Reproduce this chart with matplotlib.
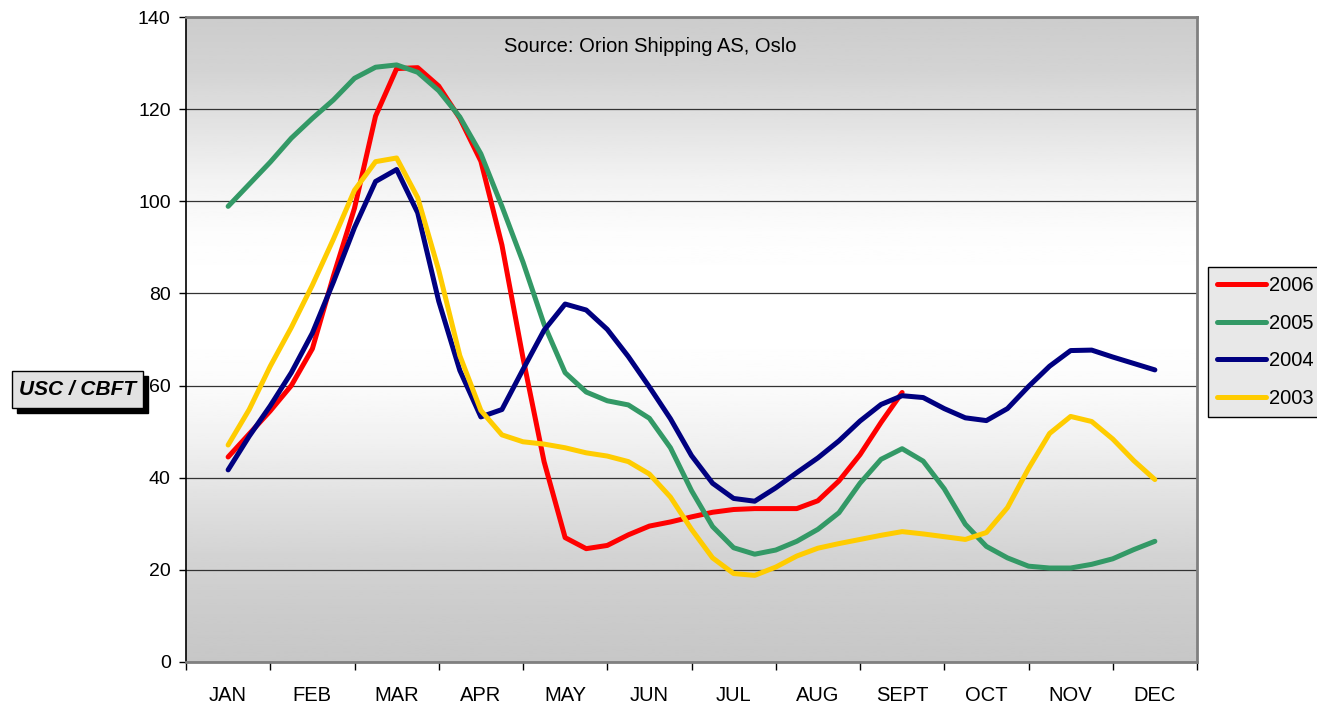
import matplotlib.pyplot as plt
import numpy as np
from matplotlib.patches import Rectangle

# months on the category axis, weekly-ish readings (quarter month steps)
months = ["JAN", "FEB", "MAR", "APR", "MAY", "JUN", "JUL", "AUG", "SEPT", "OCT", "NOV", "DEC"]
weeks = [i * 0.25 for i in range(45)]   # 0 = JAN ... 11 = DEC

rate_2006 = [44.5, 49.5, 54.5, 60.0, 68.0, 83.8, 98.5, 118.5, 128.8, 129.0, 125.0, 118.0,
             108.7, 90.5, 66.0, 43.5, 27.0, 24.6, 25.3, 27.6, 29.5, 30.4, 31.5, 32.5,
             33.1, 33.3, 33.3, 33.3, 35.0, 39.3, 45.0, 52.0, 58.5]
rate_2005 = [98.9, 103.7, 108.5, 113.7, 118.0, 122.0, 126.7, 129.1, 129.6, 128.0, 124.0, 118.3,
             110.3, 98.9, 86.8, 73.3, 62.8, 58.6, 56.7, 55.8, 52.9, 46.5, 37.2, 29.4,
             24.8, 23.4, 24.3, 26.2, 28.8, 32.4, 38.8, 44.0, 46.3, 43.6, 37.6, 29.9,
             25.1, 22.6, 20.8, 20.4, 20.4, 21.2, 22.4, 24.4, 26.2]
rate_2004 = [41.7, 49.0, 55.6, 62.8, 71.4, 82.5, 94.3, 104.3, 106.9, 97.5, 78.3, 63.3,
             53.2, 54.8, 63.5, 72.0, 77.7, 76.4, 72.2, 66.3, 59.7, 52.8, 44.8, 38.8,
             35.5, 34.9, 37.8, 41.1, 44.3, 48.0, 52.3, 55.9, 57.8, 57.4, 55.0, 53.0,
             52.4, 55.0, 59.8, 64.2, 67.6, 67.7, 66.2, 64.8, 63.4]
rate_2003 = [47.1, 54.8, 64.2, 72.6, 81.8, 91.8, 102.4, 108.6, 109.4, 100.8, 85.0, 66.5,
             54.6, 49.3, 47.8, 47.3, 46.5, 45.4, 44.7, 43.5, 40.8, 35.8, 28.8, 22.6,
             19.2, 18.8, 20.6, 23.0, 24.7, 25.7, 26.6, 27.5, 28.3, 27.8, 27.2, 26.6,
             28.1, 33.5, 42.0, 49.6, 53.3, 52.2, 48.4, 43.7, 39.6]

series = [("2006", rate_2006, "#ff0000"),
          ("2005", rate_2005, "#339966"),
          ("2004", rate_2004, "#000080"),
          ("2003", rate_2003, "#ffcc00")]

plt.rcParams['font.family'] = ['Liberation Sans', 'DejaVu Sans']

fig = plt.figure(figsize=(13.17, 7.06), dpi=100)
ax = fig.add_axes([186 / 1317, 1 - 662 / 706, 1011 / 1317, 645 / 706])

# plot area shading: grey at top and bottom, white in the middle
shade = np.array([0.80, 0.83, 0.89, 0.95, 0.99, 1.0, 1.0, 0.98, 0.94, 0.88, 0.83, 0.80, 0.78])
shade_img = np.interp(np.linspace(0, 1, 300), np.linspace(0, 1, len(shade)), shade)
ax.imshow(shade_img[:, None], cmap="gray", vmin=0, vmax=1, aspect="auto",
          extent=[-0.5, 11.5, 0, 140], origin="upper", zorder=0)

for label, vals, col in series:
    ax.plot(weeks[:len(vals)], vals, color=col, lw=3.6, label=label,
            solid_capstyle="round", solid_joinstyle="round", zorder=3)

ax.set_xlim(-0.5, 11.5)
ax.set_ylim(0, 140)
ax.set_yticks(range(0, 141, 20))
ax.yaxis.grid(True, color="#333333", lw=0.9)
ax.set_axisbelow(True)
ax.tick_params(axis="y", direction="out", length=5, width=1, pad=6, labelsize=14)

ax.set_xticks(np.arange(-0.5, 11.6, 1))
ax.set_xticklabels([])
ax.set_xticks(range(12), minor=True)
ax.set_xticklabels(months, minor=True)
ax.tick_params(axis="x", which="major", direction="out", length=6, width=1)
ax.tick_params(axis="x", which="minor", length=0, pad=17, labelsize=14.5)

for side in ["top", "right", "bottom"]:
    ax.spines[side].set_color("#808080")
    ax.spines[side].set_linewidth(2)
ax.spines["left"].set_color("black")
ax.spines["left"].set_linewidth(1.2)

ax.text((650 - 186) / 1011, 0.955, "Source: Orion Shipping AS, Oslo", transform=ax.transAxes,
        ha="center", va="center", fontsize=14.5)

# y-axis title box with shadow
bx, by, bw, bh = 12 / 1317, 1 - 408 / 706, 131 / 1317, 37 / 706
fig.patches.append(Rectangle((bx + 5 / 1317, by - 5 / 706), bw, bh, transform=fig.transFigure,
                             facecolor="black", edgecolor="black", zorder=1))
fig.patches.append(Rectangle((bx, by), bw, bh, transform=fig.transFigure,
                             facecolor="#e2e2e2", edgecolor="black", lw=1, zorder=2))
fig.text(bx + bw / 2, by + bh / 2, "USC / CBFT", ha="center", va="center",
         fontsize=15, fontweight="bold", fontstyle="italic", zorder=3)

leg = ax.legend(loc="upper left", bbox_to_anchor=(1208 / 1317, 1 - 267 / 706),
                bbox_transform=fig.transFigure, borderaxespad=0, fontsize=14.5,
                handlelength=2.45, handletextpad=0.15, labelspacing=0.92,
                fancybox=False, framealpha=1, borderpad=0.45, handleheight=0.7)
leg.get_frame().set_facecolor("#e8e8e8")
leg.get_frame().set_edgecolor("black")
leg.get_frame().set_linewidth(1)

fig.savefig("out.png", dpi=100)
